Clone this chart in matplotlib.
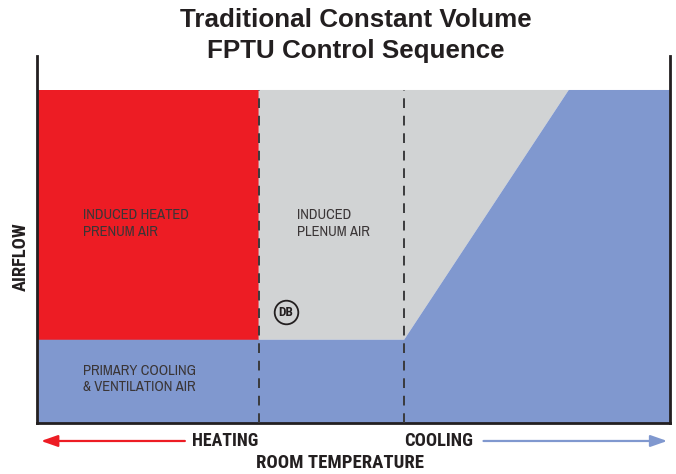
import matplotlib
matplotlib.use("Agg")
import matplotlib.pyplot as plt
from matplotlib.patches import Polygon
from matplotlib import font_manager as fm

# Control sequence breakpoints (room temperature axis, 0-100) and airflow levels (0-100)
heat_end = 35          # end of heating zone / start of deadband
db_end = 58            # end of deadband, start of cooling ramp
cool_full = 84         # primary airflow reaches maximum
max_flow = 100         # total fan airflow (constant volume)
min_primary = 25       # minimum primary (ventilation) airflow

zone_labels = ["INDUCED HEATED\nPRENUM AIR", "INDUCED\nPLENUM AIR", "PRIMARY COOLING\n& VENTILATION AIR"]
title_lines = ["Traditional Constant Volume", "FPTU Control Sequence"]

RED = "#ED1C24"
GRAY = "#D1D3D4"
BLUE = "#8098CF"
DARK = "#231F20"


def _weight(f):
    w = f.weight
    if isinstance(w, str):
        w = fm.weight_dict.get(w, 400)
    return int(w)


def pick_family(candidates, min_weight=400):
    """First installed family among candidates that has a face of the given weight."""
    for name in candidates:
        if any(f.name == name and _weight(f) >= min_weight for f in fm.fontManager.ttflist):
            return name
    return "DejaVu Sans"


NARROW = [pick_family(["Archivo Narrow", "IBM Plex Sans Condensed"]), "DejaVu Sans"]
NARROW_BOLD = [pick_family(["Archivo Narrow", "Roboto Condensed", "IBM Plex Sans Condensed",
                            "Fira Sans Condensed", "Barlow Semi Condensed", "Asap Condensed",
                            "Encode Sans Condensed"], 600), "DejaVu Sans"]
WIDE = ["Liberation Sans", "DejaVu Sans"]

W, H = 676, 474
fig = plt.figure(figsize=(W / 100, H / 100), dpi=100)
ax = fig.add_axes([37 / W, 1 - 423 / H, (670 - 37) / W, (423 - 56) / H])
ax.set_xlim(0, 100)
ax.set_ylim(0, 110.2)

# Induced heated air (heating zone)
ax.add_patch(Polygon([(0, min_primary), (heat_end, min_primary), (heat_end, max_flow), (0, max_flow)],
                     closed=True, facecolor=RED, edgecolor="none", zorder=1))
# Induced plenum air (deadband and cooling ramp)
ax.add_patch(Polygon([(heat_end, min_primary), (db_end, min_primary), (cool_full, max_flow), (heat_end, max_flow)],
                     closed=True, facecolor=GRAY, edgecolor="none", zorder=1))
# Primary air
ax.add_patch(Polygon([(0, 0), (100, 0), (100, max_flow), (cool_full, max_flow), (db_end, min_primary), (0, min_primary)],
                     closed=True, facecolor=BLUE, edgecolor="none", zorder=2))

# Zone boundaries
for xv in (heat_end, db_end):
    ax.plot([xv, xv], [0, max_flow], color="#3a3a3c", lw=1.4, ls=(0, (5, 4)), zorder=3)

# Zone labels
label_kw = dict(fontsize=10.5, family=NARROW, color="#3a3536", va="center", ha="left",
                linespacing=1.25, zorder=4)
ax.text(7.3, 59.8, zone_labels[0], **label_kw)
ax.text(41.1, 59.8, zone_labels[1], **label_kw)
ax.text(7.3, 13.2, zone_labels[2], **label_kw)

# Deadband marker
ax.plot([39.3], [33.3], marker="o", ms=17, mfc="none", mec=DARK, mew=1.3, zorder=4)
ax.text(39.3, 33.3, "DB", fontsize=9.5, family=NARROW_BOLD, weight="bold", color=DARK,
        ha="center", va="center", zorder=5)

# Axes frame
ax.spines["top"].set_visible(False)
for s in ("left", "right", "bottom"):
    ax.spines[s].set_color(DARK)
    ax.spines[s].set_linewidth(2)
ax.set_xticks([])
ax.set_yticks([])

# Direction arrows and axis titles
arrow_y = -5.4
ax.annotate("", xy=(0.2, arrow_y), xytext=(23.8, arrow_y), xycoords="data",
            arrowprops=dict(arrowstyle="-|>,head_length=1.0,head_width=0.35", color=RED, lw=1.6),
            annotation_clip=False)
ax.annotate("", xy=(100, arrow_y), xytext=(70.1, arrow_y), xycoords="data",
            arrowprops=dict(arrowstyle="-|>,head_length=1.0,head_width=0.35", color=BLUE, lw=1.6),
            annotation_clip=False)
bold_kw = dict(fontsize=13, family=NARROW_BOLD, weight="bold", color=DARK)
t_heat = ax.text(heat_end, arrow_y, "HEATING", ha="right", va="center", clip_on=False, **bold_kw)
t_cool = ax.text(db_end, arrow_y, "COOLING", ha="left", va="center", clip_on=False, **bold_kw)
t_room = fig.text(339.5 / W, 1 - 463 / H, "ROOM TEMPERATURE", ha="center", va="center", **bold_kw)
t_air = fig.text(21 / W, 1 - 257 / H, "AIRFLOW", ha="center", va="center", rotation=90, **bold_kw)

title_kw = dict(fontsize=17, family=WIDE, weight="bold", color=DARK, ha="center", va="baseline")
t_title1 = fig.text(356 / W, 1 - 27 / H, title_lines[0], **title_kw)
t_title2 = fig.text(356 / W, 1 - 58 / H, title_lines[1], **title_kw)

# Size the axis captions to their intended pixel extents
renderer = fig.canvas.get_renderer()
for t, px, along in [(t_heat, 66, "w"), (t_cool, 69, "w"), (t_room, 167, "w"), (t_air, 69, "h")]:
    bb = t.get_window_extent(renderer)
    cur = bb.width if along == "w" else bb.height
    t.set_fontsize(t.get_fontsize() * px / cur)
bb = t_title1.get_window_extent(renderer)
title_size = t_title1.get_fontsize() * 352 / bb.width
t_title1.set_fontsize(title_size)
t_title2.set_fontsize(title_size)

fig.savefig("out.png", dpi=100)
